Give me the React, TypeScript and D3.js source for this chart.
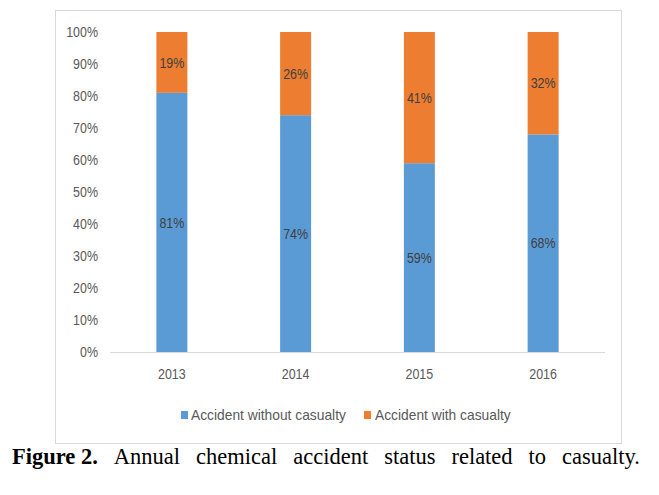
import React, { useEffect, useRef } from "react";
import * as d3 from "d3";

const years = ["2013", "2014", "2015", "2016"];
const withoutCasualty = [81, 74, 59, 68];
const withCasualty = [19, 26, 41, 32];
const yTicks = [0, 10, 20, 30, 40, 50, 60, 70, 80, 90, 100];
const seriesNames = ["Accident without casualty", "Accident with casualty"];
const seriesColors = ["#5B9BD5", "#ED7D31"];
const captionBold = "Figure 2.";
const captionWords = ["Annual", "chemical", "accident", "status", "related", "to", "casualty."];

const W = 659;
const H = 495;
const FONT = "'Liberation Sans', Arial, sans-serif";
const SERIF = "'Liberation Serif', 'Times New Roman', serif";

function CText(props: {
  x: number;
  y: number;
  sx: number;
  anchor?: "start" | "middle" | "end";
  fill: string;
  children: React.ReactNode;
}) {
  return (
    <g transform={`translate(${props.x},${props.y}) scale(${props.sx},1)`}>
      <text
        x={0}
        y={0}
        dy="0.35em"
        textAnchor={props.anchor || "start"}
        fontFamily={FONT}
        fontSize={15}
        fill={props.fill}
      >
        {props.children}
      </text>
    </g>
  );
}

export default function App() {
  const capRef = useRef<SVGGElement>(null);

  const x = d3.scaleBand<string>().domain(years).range([110, 605]);
  const y = d3.scaleLinear().domain([0, 100]).range([352, 32]);
  const barW = 31;
  const NUM = 0.83;
  const LEG = 0.92;

  useEffect(() => {
    const g = capRef.current;
    if (!g) return;
    const nodes = Array.from(g.querySelectorAll("text")) as SVGTextElement[];
    const widths = nodes.map((n) => n.getComputedTextLength());
    const left = 12;
    const right = 640;
    const total = widths.reduce((a, b) => a + b, 0);
    const gap = (right - left - total) / (nodes.length - 1);
    let cx = left;
    nodes.forEach((n, i) => {
      n.setAttribute("x", String(cx));
      cx += widths[i] + gap;
    });
  }, []);

  return (
    <svg
      width={W}
      height={H}
      style={{ position: "absolute", left: 0, top: 0, background: "#fff" }}
    >
      <rect x={55.5} y={10.5} width={566} height={433} fill="#fff" stroke="#D9D9D9" strokeWidth={1} />
      {yTicks.map((t) => (
        <CText key={t} x={98} y={y(t)} sx={NUM} anchor="end" fill="#595959">
          {t}%
        </CText>
      ))}
      {years.map((yr, i) => {
        const cx = (x(yr) as number) + x.bandwidth() / 2;
        const a = withoutCasualty[i];
        const b = withCasualty[i];
        return (
          <g key={yr}>
            <rect x={cx - barW / 2} y={y(a)} width={barW} height={y(0) - y(a)} fill={seriesColors[0]} />
            <rect x={cx - barW / 2} y={y(a + b)} width={barW} height={y(a) - y(a + b)} fill={seriesColors[1]} />
            <CText x={cx} y={y(a / 2)} sx={NUM} anchor="middle" fill="#404040">
              {a}%
            </CText>
            <CText x={cx} y={y(a + b / 2)} sx={NUM} anchor="middle" fill="#404040">
              {b}%
            </CText>
            <CText x={cx} y={374} sx={NUM} anchor="middle" fill="#595959">
              {yr}
            </CText>
          </g>
        );
      })}
      <line x1={110} x2={605} y1={352.5} y2={352.5} stroke="#D9D9D9" strokeWidth={1} />
      <g>
        <rect x={181} y={411} width={7} height={8} fill={seriesColors[0]} />
        <CText x={191} y={415} sx={LEG} fill="#595959">
          {seriesNames[0]}
        </CText>
        <rect x={364} y={411} width={7} height={8} fill={seriesColors[1]} />
        <CText x={375} y={415} sx={LEG} fill="#595959">
          {seriesNames[1]}
        </CText>
      </g>
      <g ref={capRef}>
        <text x={12} y={464} fontFamily={SERIF} fontSize={22.5} fontWeight="bold" fill="#000">
          {captionBold}
        </text>
        {captionWords.map((w) => (
          <text key={w} x={0} y={464} fontFamily={SERIF} fontSize={22.5} fill="#000">
            {w}
          </text>
        ))}
      </g>
    </svg>
  );
}
